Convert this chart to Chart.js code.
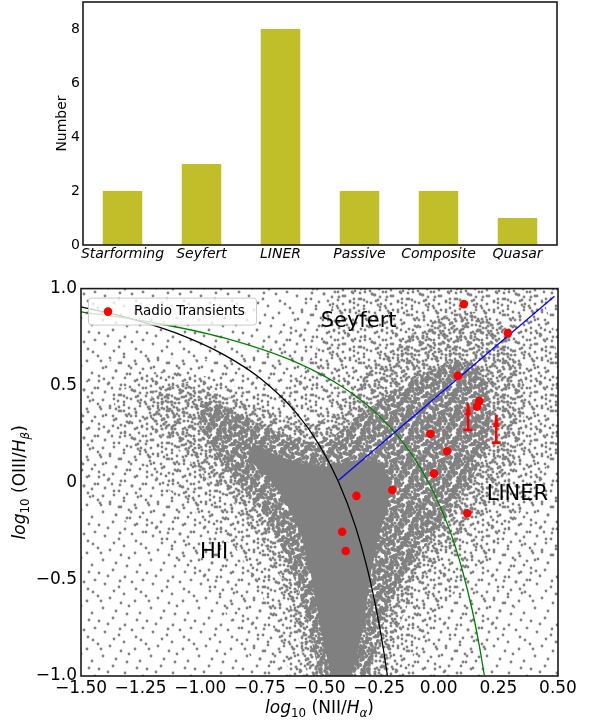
<!DOCTYPE html>
<html>
<head>
<meta charset="utf-8">
<title>Transient host classes and BPT diagram</title>
<script src="https://cdn.jsdelivr.net/npm/chart.js@4.4.1/dist/chart.umd.min.js"></script>
<style>
  html, body { margin: 0; padding: 0; background: #fff; }
  #wrap { position: relative; width: 590px; height: 726px; }
  #barCanvas { position: absolute; left: 0; top: 0; }
  #bptCanvas { position: absolute; left: 0; top: 280px; }
</style>
</head>
<body>
<div id="wrap">
  <canvas id="barCanvas" width="590" height="280"></canvas>
  <canvas id="bptCanvas" width="590" height="446"></canvas>
</div>
<script>
// top panel: how many transients in each host class
const classNames = ['Starforming', 'Seyfert', 'LINER', 'Passive', 'Composite', 'Quasar'];
const classCounts = [2, 3, 8, 2, 2, 1];
const countTicks = [0, 2, 4, 6, 8];

// bottom panel: BPT diagram
const nIITicks = [-1.5, -1.25, -1.0, -0.75, -0.5, -0.25, 0, 0.25, 0.5];
const oIIITicks = [-1.0, -0.5, 0, 0.5, 1.0];

// radio transients (log NII/Ha, log OIII/Hb)
const transientX = [0.105, 0.29, 0.08, 0.17, 0.16, -0.035, 0.035, -0.02, -0.195, 0.12, -0.345, -0.405, -0.39];
const transientY = [0.92, 0.77, 0.55, 0.42, 0.39, 0.25, 0.16, 0.045, -0.04, -0.16, -0.07, -0.255, -0.355];
// lower limits in OIII/Hb (arrows)
const limitX = [0.123, 0.241];
const limitLow = [0.27, 0.205];
const limitHigh = [0.407, 0.347];

// demarcation lines
const kauffX = [-1.5, -1.3, -1.1, -0.9, -0.75, -0.6, -0.5, -0.42, -0.35, -0.3, -0.26, -0.235, -0.215];
const kauffY = [0.906, 0.848, 0.770, 0.658, 0.538, 0.362, 0.191, 0.002, -0.225, -0.443, -0.668, -0.840, -1.0];
const kewleyX = [-1.5, -1.2, -0.9, -0.6, -0.4, -0.25, -0.12, -0.02, 0.05, 0.1, 0.14, 0.17, 0.191];
const kewleyY = [0.880, 0.825, 0.745, 0.620, 0.489, 0.343, 0.156, -0.055, -0.262, -0.459, -0.658, -0.843, -0.996];
const splitX = [-0.42, 0.485];
const splitY = [0.01, 0.96];

// outlines of the galaxy cloud, from sparse to solid
const sparseRegion = [[-1.5, -1], [0.5, -1], [0.5, 1], [-1.5, 1]];
const lightRegion = [[-1.5, 0.5], [-1.35, 0.66], [-1.1, 0.64], [-0.85, 0.62], [-0.7, 0.72], [-0.6, 0.88], [-0.55, 1.0],
  [0.5, 1.0], [0.5, -0.35], [0.35, -0.6], [0.22, -0.8], [0.15, -1.0], [-0.75, -1.0], [-0.85, -0.75], [-1.0, -0.5],
  [-1.2, -0.3], [-1.5, -0.05]];
const mediumRegion = [[-1.35, 0.45], [-1.25, 0.56], [-1.1, 0.58], [-0.95, 0.54], [-0.8, 0.47], [-0.68, 0.45], [-0.58, 0.55],
  [-0.5, 0.72], [-0.45, 0.9], [-0.42, 1.0], [0.42, 1.0], [0.48, 0.8], [0.5, 0.6], [0.5, 0.2], [0.42, 0.0], [0.32, -0.2],
  [0.2, -0.4], [0.08, -0.55], [-0.02, -0.72], [-0.1, -0.88], [-0.14, -1.0], [-0.62, -1.0], [-0.68, -0.8], [-0.75, -0.55],
  [-0.85, -0.35], [-1.0, -0.18], [-1.15, -0.02], [-1.3, 0.18], [-1.38, 0.33]];
const thickRegion = [[-1.2, 0.47], [-1.05, 0.52], [-0.9, 0.45], [-0.75, 0.38], [-0.62, 0.32], [-0.52, 0.3], [-0.45, 0.35],
  [-0.35, 0.5], [-0.22, 0.66], [-0.1, 0.78], [0.02, 0.86], [0.15, 0.88], [0.28, 0.8], [0.35, 0.6], [0.36, 0.35], [0.32, 0.12],
  [0.24, -0.08], [0.12, -0.25], [0.0, -0.4], [-0.1, -0.55], [-0.17, -0.75], [-0.22, -1.0], [-0.55, -1.0], [-0.6, -0.75],
  [-0.66, -0.5], [-0.74, -0.3], [-0.85, -0.12], [-1.0, 0.05], [-1.12, 0.2], [-1.22, 0.35]];
const denseRegion = [[-1.0, 0.42], [-0.9, 0.4], [-0.8, 0.33], [-0.66, 0.25], [-0.52, 0.2], [-0.44, 0.24], [-0.32, 0.36],
  [-0.2, 0.46], [-0.08, 0.55], [0.04, 0.62], [0.14, 0.62], [0.2, 0.52], [0.22, 0.36], [0.2, 0.18], [0.14, 0.02], [0.06, -0.14],
  [-0.04, -0.3], [-0.13, -0.46], [-0.2, -0.62], [-0.25, -0.8], [-0.29, -1.0], [-0.5, -1.0], [-0.54, -0.78], [-0.59, -0.55],
  [-0.65, -0.36], [-0.72, -0.18], [-0.83, -0.02], [-0.93, 0.14], [-1.0, 0.3]];
const coreRegion = [[-0.78, 0.2], [-0.68, 0.14], [-0.58, 0.1], [-0.48, 0.08], [-0.4, 0.1], [-0.32, 0.12], [-0.24, 0.1],
  [-0.2, 0.0], [-0.22, -0.15], [-0.26, -0.32], [-0.29, -0.5], [-0.31, -0.7], [-0.34, -0.88], [-0.37, -1.0], [-0.45, -1.0],
  [-0.48, -0.85], [-0.51, -0.65], [-0.54, -0.45], [-0.58, -0.26], [-0.64, -0.1], [-0.72, 0.03], [-0.8, 0.12]];

const regionNames = ['Seyfert', 'LINER', 'HII'];
const regionX = [-0.336, 0.33, -0.942];
const regionY = [0.83, -0.062, -0.364];

const FONT = "'DejaVu Sans', sans-serif";
Chart.defaults.font.family = FONT;
Chart.defaults.color = '#000';

const GRAY = '#808080';

// speckle texture for the cloud (style only)
const dotSpots = [[3, 5], [17, 2], [29, 9], [41, 4], [9, 16], [23, 19], [36, 14], [45, 24], [2, 28], [14, 30], [28, 26], [39, 33],
  [7, 40], [20, 43], [33, 38], [44, 45], [12, 8], [25, 35], [47, 12], [18, 23], [31, 46], [5, 33], [40, 21], [24, 13]];
const copyShift = [[0, 0], [11, 27], [26, 7], [37, 35], [19, 41], [6, 18], [31, 29], [43, 13], [15, 33], [28, 20],
  [3, 44], [22, 10], [40, 40], [9, 36], [34, 2], [46, 28]];

function dotPattern(shifts, r) {
    const c = document.createElement('canvas');
    c.width = 48; c.height = 48;
    const g = c.getContext('2d');
    g.fillStyle = GRAY;
    shifts.forEach(([sx, sy]) => {
        dotSpots.forEach(([px, py]) => {
            const x = (px + sx) % 48, y = (py + sy) % 48;
            [-48, 0, 48].forEach(dx => [-48, 0, 48].forEach(dy => {
                g.beginPath();
                g.arc(x + dx, y + dy, r, 0, Math.PI * 2);
                g.fill();
            }));
        });
    });
    return g.createPattern(c, 'repeat');
}

function minus(v, digits) {
    return (v < 0 ? '\u2212' : '') + Math.abs(v).toFixed(digits);
}

function framePlugin() {
    return {
        id: 'frame',
        afterDraw(chart) {
            const { ctx, chartArea: a } = chart;
            ctx.save();
            ctx.strokeStyle = '#1a1a1a';
            ctx.lineWidth = 1.6;
            ctx.strokeRect(a.left, a.top, a.right - a.left, a.bottom - a.top);
            ctx.restore();
        }
    };
}

const noGrid = { display: false, drawTicks: false };

// ---------- top bar chart ----------
new Chart(document.getElementById('barCanvas'), {
    type: 'bar',
    data: {
        labels: classNames,
        datasets: [{
            data: classCounts,
            backgroundColor: '#c1bf29',
            categoryPercentage: 1,
            barPercentage: 0.5
        }]
    },
    options: {
        responsive: false,
        devicePixelRatio: 1,
        animation: false,
        events: [],
        layout: { padding: { top: 2, right: 33, left: 0, bottom: 0 } },
        plugins: { legend: { display: false }, tooltip: { enabled: false } },
        scales: {
            x: {
                grid: noGrid,
                border: { display: false },
                ticks: { font: { size: 14, style: 'italic' }, padding: 1, maxRotation: 0, autoSkip: false },
                afterFit(s) { s.height = 35; s.paddingLeft = 0; s.paddingRight = 0; }
            },
            y: {
                min: 0, max: 9,
                grid: noGrid,
                border: { display: false },
                afterBuildTicks(s) { s.ticks = countTicks.map(v => ({ value: v })); },
                ticks: { font: { size: 14 }, padding: 3 },
                title: { display: true, text: 'Number', font: { size: 14 }, padding: { top: 54, bottom: 0 } },
                afterFit(s) { s.width = 83; s.paddingTop = 0; s.paddingBottom = 0; }
            }
        }
    },
    plugins: [framePlugin()]
});

// ---------- bottom BPT diagram ----------
function cloud(region, fillStyle, order) {
    return {
        data: region.map(([px, py]) => ({ x: px, y: py })),
        showLine: true,
        fill: 'shape',
        backgroundColor: fillStyle,
        borderColor: 'transparent',
        borderWidth: 0,
        pointRadius: 0,
        order: order,
        clip: 0
    };
}

function curve(xs, ys, color, order) {
    return {
        data: xs.map((v, i) => ({ x: v, y: ys[i] })),
        showLine: true,
        fill: false,
        borderColor: color,
        borderWidth: 1.3,
        cubicInterpolationMode: 'monotone',
        pointRadius: 0,
        order: order,
        clip: 0
    };
}

const arrowHead = (() => {
    const c = document.createElement('canvas');
    c.width = 9; c.height = 26;
    const g = c.getContext('2d');
    g.fillStyle = '#ff0000';
    g.beginPath();
    g.moveTo(4.5, 13);
    g.lineTo(1.0, 25);
    g.lineTo(8.0, 25);
    g.closePath();
    g.fill();
    return c;
})();

const limitSets = limitX.map((lx, i) => ({
    data: [{ x: lx, y: limitLow[i] }, { x: lx, y: limitHigh[i] }],
    showLine: true,
    borderColor: '#ff0000',
    borderWidth: 2.6,
    pointStyle: ['line', arrowHead],
    pointRadius: [4.5, 6],
    pointBorderWidth: 2.6,
    pointBorderColor: '#ff0000',
    pointBackgroundColor: '#ff0000',
    order: 1
}));

const bptLabels = {
    id: 'bptLabels',
    afterDatasetsDraw(chart) {
        const { ctx, scales: { x, y } } = chart;
        ctx.save();
        ctx.fillStyle = '#000';
        ctx.font = '21px ' + FONT;
        ctx.textAlign = 'center';
        ctx.textBaseline = 'middle';
        regionNames.forEach((t, i) => {
            ctx.fillText(t, x.getPixelForValue(regionX[i]), y.getPixelForValue(regionY[i]));
        });
        ctx.restore();
    }
};

function drawRich(ctx, parts, size) {
    const fonts = parts.map(([, it, sub]) => (it ? 'italic ' : '') + (sub ? size * 0.7 : size) + 'px ' + FONT);
    let w = 0;
    parts.forEach((p, i) => { ctx.font = fonts[i]; w += ctx.measureText(p[0]).width; });
    let cx = -w / 2;
    parts.forEach((p, i) => {
        ctx.font = fonts[i];
        ctx.fillText(p[0], cx, p[2] ? size * 0.25 : 0);
        cx += ctx.measureText(p[0]).width;
    });
}

const bptDecor = {
    id: 'bptDecor',
    afterDraw(chart) {
        const { ctx, chartArea: a } = chart;
        // legend box
        const lx = a.left + 7, ly = a.top + 9, lw = 168, lh = 27;
        ctx.save();
        ctx.fillStyle = 'rgba(255,255,255,0.8)';
        ctx.strokeStyle = '#cccccc';
        ctx.lineWidth = 1;
        ctx.beginPath();
        ctx.roundRect(lx + 0.5, ly + 0.5, lw, lh, 3);
        ctx.fill();
        ctx.stroke();
        ctx.fillStyle = '#ff0000';
        ctx.beginPath();
        ctx.arc(lx + 20, ly + 14, 4.3, 0, Math.PI * 2);
        ctx.fill();
        ctx.fillStyle = '#000';
        ctx.font = '13.5px ' + FONT;
        ctx.textBaseline = 'middle';
        ctx.fillText(chart.data.datasets[0].label, lx + 46, ly + 14);

        // axis titles with subscripts
        ctx.textBaseline = 'alphabetic';
        ctx.translate((a.left + a.right) / 2, 433);
        drawRich(ctx, [['log', 1, 0], ['10', 0, 1], [' (NII/', 0, 0], ['H', 1, 0], ['\u03b1', 1, 1], [')', 0, 0]], 17);
        ctx.setTransform(1, 0, 0, 1, 0, 0);
        ctx.translate(25, (a.top + a.bottom) / 2);
        ctx.rotate(-Math.PI / 2);
        drawRich(ctx, [['log', 1, 0], ['10', 0, 1], [' (OIII/', 0, 0], ['H', 1, 0], ['\u03b2', 1, 1], [')', 0, 0]], 17);
        ctx.restore();
    }
};

new Chart(document.getElementById('bptCanvas'), {
    type: 'scatter',
    data: {
        datasets: [
            {
                label: 'Radio Transients',
                data: transientX.map((v, i) => ({ x: v, y: transientY[i] })),
                backgroundColor: '#ff0000',
                borderColor: '#ff0000',
                borderWidth: 0,
                pointRadius: 4.3,
                order: 0
            },
            ...limitSets,
            curve(splitX, splitY, '#0000ff', 2),
            curve(kewleyX, kewleyY, '#008000', 3),
            curve(kauffX, kauffY, '#000000', 3),
            cloud(coreRegion, GRAY, 5),
            cloud(denseRegion, dotPattern(copyShift.slice(8, 16), 1.9), 6),
            cloud(thickRegion, dotPattern(copyShift.slice(4, 8), 1.6), 7),
            cloud(mediumRegion, dotPattern(copyShift.slice(2, 4), 1.4), 8),
            cloud(lightRegion, dotPattern(copyShift.slice(1, 2), 1.4), 9),
            cloud(sparseRegion, dotPattern(copyShift.slice(0, 1), 1.4), 10)
        ]
    },
    options: {
        responsive: false,
        devicePixelRatio: 1,
        animation: false,
        events: [],
        layout: { padding: { top: 6, right: 32, left: 0, bottom: 0 } },
        plugins: { legend: { display: false }, tooltip: { enabled: false } },
        scales: {
            x: {
                type: 'linear', min: -1.5, max: 0.5,
                grid: noGrid,
                border: { display: false },
                afterBuildTicks(s) { s.ticks = nIITicks.map(v => ({ value: v })); },
                ticks: { font: { size: 17 }, padding: 2, maxRotation: 0, autoSkip: false, callback: v => minus(v, 2) },
                afterFit(s) { s.height = 50; s.paddingLeft = 0; s.paddingRight = 0; }
            },
            y: {
                type: 'linear', min: -1, max: 1,
                grid: noGrid,
                border: { display: false },
                afterBuildTicks(s) { s.ticks = oIIITicks.map(v => ({ value: v })); },
                ticks: { font: { size: 17 }, padding: 4, callback: v => (v === 0 ? '0' : minus(v, 1)) },
                afterFit(s) { s.width = 81; s.paddingTop = 0; s.paddingBottom = 0; }
            }
        }
    },
    plugins: [bptLabels, framePlugin(), bptDecor]
});
</script>
</body>
</html>
